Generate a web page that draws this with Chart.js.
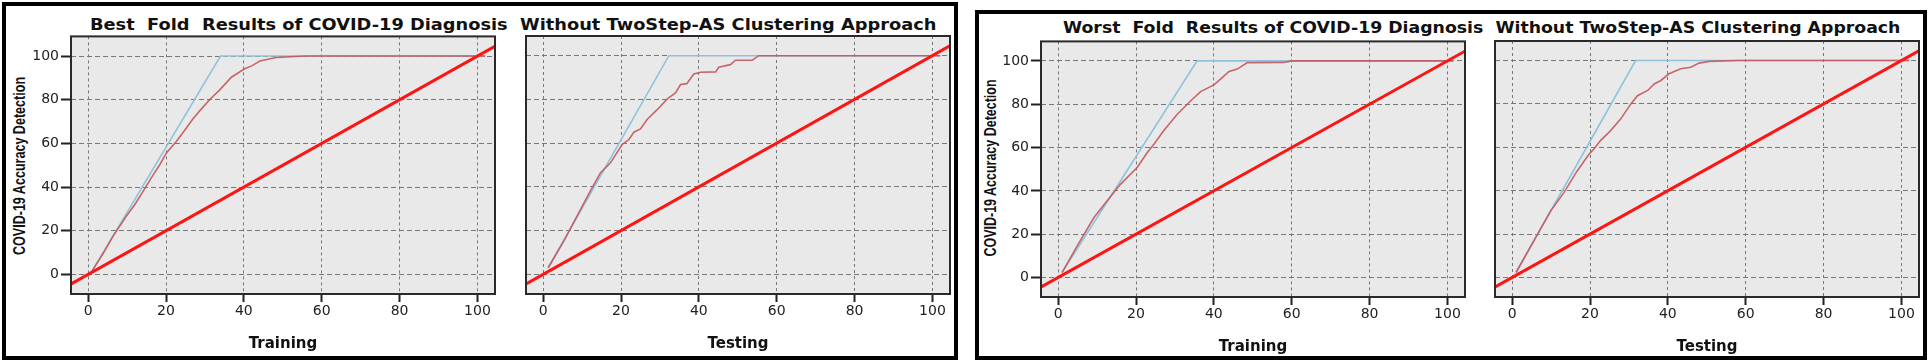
<!DOCTYPE html>
<html>
<head>
<meta charset="utf-8">
<script src="https://cdn.jsdelivr.net/npm/chart.js@4.4.1/dist/chart.umd.min.js"></script>
<style>
  body { margin:0; background:#fff; width:1930px; height:364px; position:relative; overflow:hidden; }
  .frame { position:absolute; border:4px solid #000; box-sizing:border-box; }
  .title { position:absolute; font:bold 16px "DejaVu Sans"; line-height:16px; white-space:pre; color:#111; transform-origin:left top; }
  .ytitle { position:absolute; font:bold 16.5px "Liberation Sans"; line-height:16px; white-space:pre; color:#111; }
  canvas { position:absolute; }
</style>
</head>
<body>
<div class="frame" style="left:2px;top:2px;width:956px;height:358px"></div>
<div class="frame" style="left:975px;top:10px;width:952px;height:350px"></div>
<div class="title" id="t1" style="left:90px;top:16.5px">Best  Fold  Results of COVID-19 Diagnosis  Without TwoStep-AS Clustering Approach</div>
<div class="title" id="t2" style="left:1063px;top:20px">Worst  Fold  Results of COVID-19 Diagnosis  Without TwoStep-AS Clustering Approach</div>
<div class="ytitle" id="y1" style="left:18.5px;top:165.5px">COVID-19 Accuracy Detection</div>
<div class="ytitle" id="y2" style="left:990px;top:168.3px">COVID-19 Accuracy Detection</div>
<script>
// tick labels
const xTicks = [0, 20, 40, 60, 80, 100];
const yTicks = [0, 20, 40, 60, 80, 100];

// diagonal reference line (y = x)
const refX = [-10, 110];
const refY = [-10, 110];

// best fold - training
const bestTrainIdealX = [1, 34, 102];
const bestTrainIdealY = [1.5, 100, 100];
const bestTrainX = [1, 4, 6.4, 9.8, 12, 14.1, 16.5, 18.4, 20.1, 22.7, 24.8, 26.9, 28.7, 31.2, 33.8, 36.8, 40.2, 42, 44.1, 48.3, 52, 56, 102];
const bestTrainY = [1.5, 10, 17.5, 26.6, 32, 38, 45, 50.2, 55.6, 61, 66, 71.2, 75, 80, 84.5, 90.3, 94.2, 95.5, 97.7, 99.3, 99.7, 100, 100];

// best fold - testing
const bestTestIdealX = [1.3, 32.3, 102];
const bestTestIdealY = [3, 100, 100];
const bestTestX = [1.3, 5.3, 8.7, 12.1, 14.7, 17.3, 20.3, 22, 23.3, 25, 26.7, 29.3, 31.9, 34, 35.3, 36.9, 38.7, 40.4, 44.3, 45.1, 48.1, 49.4, 53.7, 55.4, 102];
const bestTestY = [3, 15.2, 26.6, 38, 46.4, 51, 59.4, 61.6, 65, 66.5, 70.8, 75.3, 80.2, 83, 86.8, 87.2, 91.6, 92.4, 92.6, 94.7, 95.9, 97.9, 97.9, 100, 100];

// worst fold - training
const worstTrainIdealX = [1, 35.7, 101.5];
const worstTrainIdealY = [2.3, 100, 100];
const worstTrainX = [1, 4.9, 9.2, 12.6, 16, 20.3, 22.9, 24.6, 27.1, 30.6, 34, 36.6, 40, 41.7, 43.9, 46, 48.6, 58, 60, 101.5];
const worstTrainY = [2.3, 14.6, 27.7, 35.4, 43, 50.8, 57.7, 61.5, 67.7, 75.4, 81.5, 85.8, 88.9, 91.6, 95.1, 96.2, 99.2, 99.3, 100, 100];

// worst fold - testing
const worstTestIdealX = [1, 31.7, 102];
const worstTestIdealY = [2.3, 100, 100];
const worstTestX = [1, 5.6, 9.9, 13.3, 16.7, 19.7, 21, 22.7, 25.3, 27.9, 30.5, 32.2, 34.8, 36.5, 38.2, 40.3, 43.3, 45.9, 48, 50.6, 58, 102];
const worstTestY = [2.3, 17, 30.7, 39.1, 49.1, 56.7, 59.2, 63.1, 67.7, 73.1, 80, 83.8, 86.2, 89.2, 90.8, 93.9, 96.2, 96.9, 98.8, 99.6, 100, 100];

function pts(xs, ys) {
  return xs.map(function(x, i){ return {x: x, y: ys[i]}; });
}

// grey plot background and dark frame round the plot area
const plotFrame = {
  id: 'plotFrame',
  beforeDraw: function(chart){
    const a = chart.chartArea, ctx = chart.ctx;
    ctx.save();
    ctx.fillStyle = '#e9e9e9';
    ctx.fillRect(a.left, a.top, a.right - a.left, a.bottom - a.top);
    ctx.restore();
  },
  afterDatasetsDraw: function(chart){
    const a = chart.chartArea, ctx = chart.ctx;
    ctx.save();
    ctx.strokeStyle = '#2a2a2a';
    ctx.lineWidth = 2;
    ctx.strokeRect(a.left, a.top, a.right - a.left, a.bottom - a.top);
    ctx.restore();
  }
};

const YW = 70, PT = 10, PR = 8, XH = 62;

function makePanel(area, xTitle, showY, idealX, idealY, actX, actY){
  const c = document.createElement('canvas');
  const left = area.L - YW, top = area.T - PT;
  const w = area.R + PR - left, h = area.B + XH - top;
  c.width = Math.round(w); c.height = Math.round(h);
  c.style.left = left + 'px'; c.style.top = top + 'px';
  document.body.appendChild(c);

  new Chart(c.getContext('2d'), {
    type: 'line',
    data: {
      datasets: [{
        data: pts(refX, refY),
        borderColor: '#ff1414',
        borderWidth: 3
      }, {
        data: pts(actX, actY),
        borderColor: 'rgba(196,86,92,0.9)',
        borderWidth: 1.6
      }, {
        data: pts(idealX, idealY),
        borderColor: '#8fc2dc',
        borderWidth: 1.6
      }]
    },
    options: {
      responsive: false,
      animation: false,
      layout: { padding: { left: 0, top: PT, right: PR, bottom: 0 } },
      elements: { point: { radius: 0 }, line: { tension: 0 } },
      plugins: { legend: { display: false }, tooltip: { enabled: false } },
      scales: {
        x: {
          type: 'linear', min: -4.4, max: 104.5,
          afterBuildTicks: function(s){ s.ticks = xTicks.map(function(v){ return {value: v}; }); },
          afterFit: function(s){ s.height = XH; },
          ticks: { color: '#222', font: { family: 'DejaVu Sans', size: 14 }, padding: 1, maxRotation: 0 },
          grid: { color: '#777', lineWidth: 1, tickLength: 8, tickColor: '#222', tickWidth: 2 },
          border: { display: false, dash: [3, 3] },
          title: { display: true, text: xTitle, color: '#111', font: { family: 'DejaVu Sans', size: 15, weight: 'bold' }, padding: { top: 0, bottom: 3 } }
        },
        y: {
          type: 'linear', min: -9, max: 109,
          afterBuildTicks: function(s){ s.ticks = yTicks.map(function(v){ return {value: v}; }); },
          afterFit: function(s){ s.width = YW; },
          ticks: { display: showY, color: '#222', font: { family: 'DejaVu Sans', size: 14 }, padding: 2 },
          grid: { color: '#777', lineWidth: 1, drawTicks: showY, tickLength: 10, tickColor: '#222', tickWidth: 2 },
          border: { display: false, dash: [5, 3] }
        }
      }
    },
    plugins: [plotFrame]
  });
}

makePanel({L: 71.2, T: 36.3, R: 494.8, B: 294.7}, 'Training', true, bestTrainIdealX, bestTrainIdealY, bestTrainX, bestTrainY);
makePanel({L: 525.6, T: 36.3, R: 949.2, B: 294.7}, 'Testing', false, bestTestIdealX, bestTestIdealY, bestTestX, bestTestY);
makePanel({L: 1040.6, T: 40.5, R: 1464.2, B: 296.2}, 'Training', true, worstTrainIdealX, worstTrainIdealY, worstTrainX, worstTrainY);
makePanel({L: 1494.6, T: 40.5, R: 1918.2, B: 296.2}, 'Testing', false, worstTestIdealX, worstTestIdealY, worstTestX, worstTestY);

// stretch titles to the width they take in the picture
function fitTitle(id, w){
  const el = document.getElementById(id);
  el.style.transform = 'scaleX(' + (w / el.offsetWidth) + ')';
}
fitTitle('t1', 847);
fitTitle('t2', 837);

// rotated y axis titles, squeezed to the length they have in the picture
function fitYTitle(id, len){
  const el = document.getElementById(id);
  el.style.transform = 'translate(-50%,-50%) rotate(-90deg) scaleX(' + (len / el.offsetWidth) + ')';
}
fitYTitle('y1', 178);
fitYTitle('y2', 177);
</script>
</body>
</html>
